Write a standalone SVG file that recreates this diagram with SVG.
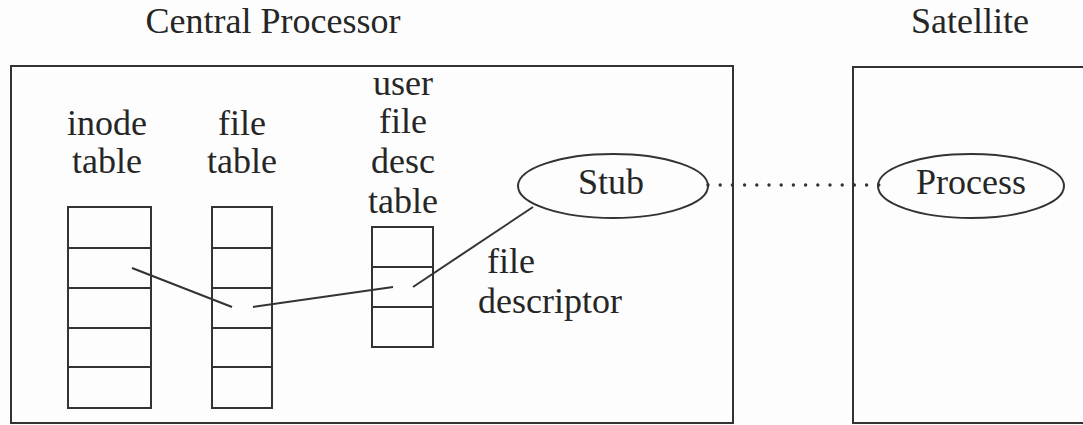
<svg xmlns="http://www.w3.org/2000/svg" width="1083" height="425" viewBox="0 0 1083 425">
<style>
  text { font-family: "Liberation Serif", Tinos, "Times New Roman", "Nimbus Roman", FreeSerif, "DejaVu Serif", serif; font-size: 36px; fill: #262626; }
  .m { text-anchor: middle; }
  .box { fill: none; stroke: #333; stroke-width: 2; }
  .ln { fill: none; stroke: #333; stroke-width: 2; }
  .dot { fill: none; stroke: #333; stroke-width: 3.4; stroke-linecap: round; stroke-dasharray: 0 12.2; }
</style>
<rect width="1083" height="425" fill="#fdfdfd"/>
<g id="central-processor">
  <text class="m" x="273" y="33">Central Processor</text>
  <rect class="box" x="11" y="66" width="722" height="357"/>
</g>
<g id="satellite">
  <text class="m" x="970" y="33">Satellite</text>
  <rect class="box" x="853" y="67" width="240" height="356"/>
</g>
<g id="inode-table">
  <text class="m" x="107" y="135">inode</text>
  <text class="m" x="107" y="173">table</text>
  <rect class="box" x="68" y="207" width="83" height="201"/>
  <path class="ln" d="M68 248H151M68 288H151M68 328H151M68 367H151"/>
</g>
<g id="file-table">
  <text class="m" x="242" y="135">file</text>
  <text class="m" x="242" y="173">table</text>
  <rect class="box" x="212" y="207" width="60" height="201"/>
  <path class="ln" d="M212 248H272M212 288H272M212 328H272M212 367H272"/>
</g>
<g id="user-file-desc-table">
  <text class="m" x="403" y="95">user</text>
  <text class="m" x="403" y="133">file</text>
  <text class="m" x="403" y="173">desc</text>
  <text class="m" x="403" y="213">table</text>
  <rect class="box" x="372" y="227" width="61" height="120"/>
  <path class="ln" d="M372 267H433M372 307H433"/>
</g>
<g id="file-descriptor-label">
  <text x="487" y="273">file</text>
  <text x="478" y="313">descriptor</text>
</g>
<g id="stub">
  <ellipse class="box" cx="613" cy="186" rx="95" ry="32"/>
  <text class="m" x="611" y="194">Stub</text>
</g>
<g id="process">
  <ellipse class="box" cx="971" cy="186" rx="93" ry="32"/>
  <text class="m" x="971" y="194">Process</text>
</g>
<g id="connectors">
  <line class="ln" x1="132" y1="268" x2="232" y2="307"/>
  <line class="ln" x1="253" y1="307" x2="393" y2="287"/>
  <line class="ln" x1="413" y1="287" x2="533" y2="207"/>
  <line class="dot" x1="708" y1="185" x2="880" y2="185"/>
</g>
</svg>
